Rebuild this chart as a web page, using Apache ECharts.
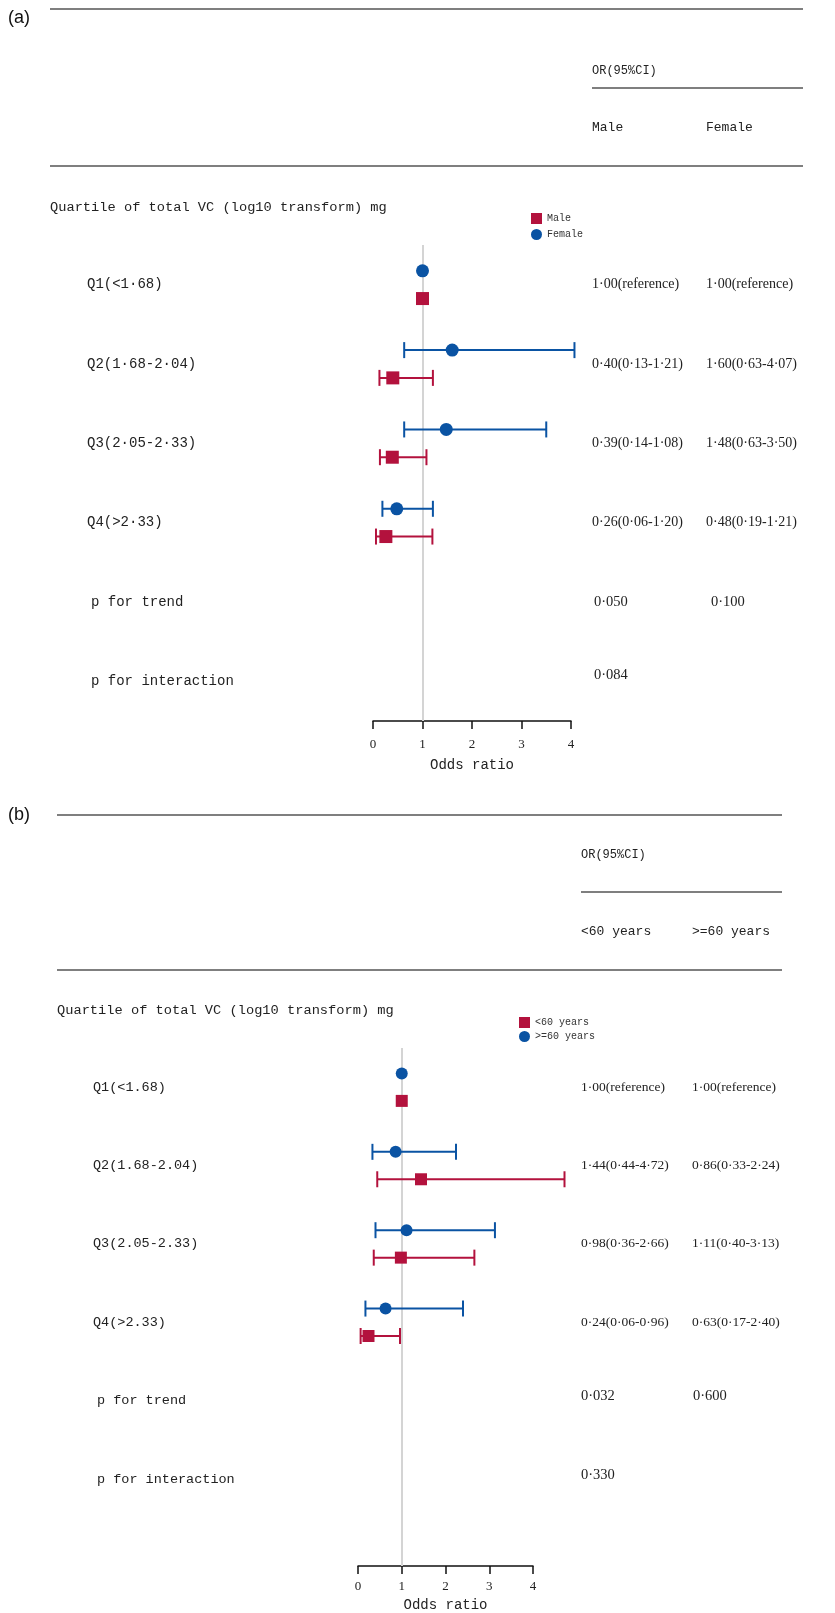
<!DOCTYPE html>
<html>
<head>
<meta charset="utf-8">
<script src="https://cdn.jsdelivr.net/npm/echarts@6/dist/echarts.min.js"></script>
<style>html,body{margin:0;padding:0;background:#fff}#c{width:835px;height:1613px}</style>
</head>
<body>
<div id="c"></div>
<script>
// ---------- Panel (a): by sex ----------
const rowLabelsA = ['Q1(<1·68)', 'Q2(1·68-2·04)', 'Q3(2·05-2·33)', 'Q4(>2·33)', 'p for trend', 'p for interaction'];
const maleOR = [1.00, 0.40, 0.39, 0.26];
const maleLo = [null, 0.13, 0.14, 0.06];
const maleHi = [null, 1.21, 1.08, 1.20];
const femaleOR = [1.00, 1.60, 1.48, 0.48];
const femaleLo = [null, 0.63, 0.63, 0.19];
const femaleHi = [null, 4.07, 3.50, 1.21];
const maleText = ['1·00(reference)', '0·40(0·13-1·21)', '0·39(0·14-1·08)', '0·26(0·06-1·20)'];
const femaleText = ['1·00(reference)', '1·60(0·63-4·07)', '1·48(0·63-3·50)', '0·48(0·19-1·21)'];
const pTrendA = ['0·050', '0·100'];
const pInterA = '0·084';
const groupNamesA = ['Male', 'Female'];

// ---------- Panel (b): by age ----------
const rowLabelsB = ['Q1(<1.68)', 'Q2(1.68-2.04)', 'Q3(2.05-2.33)', 'Q4(>2.33)', 'p for trend', 'p for interaction'];
const youngOR = [1.00, 1.44, 0.98, 0.24];
const youngLo = [null, 0.44, 0.36, 0.06];
const youngHi = [null, 4.72, 2.66, 0.96];
const oldOR = [1.00, 0.86, 1.11, 0.63];
const oldLo = [null, 0.33, 0.40, 0.17];
const oldHi = [null, 2.24, 3.13, 2.40];
const youngText = ['1·00(reference)', '1·44(0·44-4·72)', '0·98(0·36-2·66)', '0·24(0·06-0·96)'];
const oldText = ['1·00(reference)', '0·86(0·33-2·24)', '1·11(0·40-3·13)', '0·63(0·17-2·40)'];
const pTrendB = ['0·032', '0·600'];
const pInterB = '0·330';
const groupNamesB = ['<60 years', '>=60 years'];

const xTicks = [0, 1, 2, 3, 4];

const RED = '#B3123D';
const BLUE = '#0A53A3';
const MONO = '"Liberation Mono", "DejaVu Sans Mono", monospace';
const SERIF = '"Liberation Serif", "DejaVu Serif", serif';
const OFF = 0.175;

const chart = echarts.init(document.getElementById('c'), null, {renderer: 'canvas'});

function ciData(lo, hi, off) {
  const out = [];
  lo.forEach((l, i) => { if (l != null) out.push([l, hi[i], i + off]); });
  return out;
}
function ptData(or, off) { return or.map((v, i) => [v, i + off]); }

function renderCI(params, api) {
  const y = api.value(2);
  const p1 = api.coord([api.value(0), y]);
  const p2 = api.coord([api.value(1), y]);
  const h = 8;
  const color = api.visual('color');
  const st = {stroke: color, lineWidth: 2};
  return {type: 'group', children: [
    {type: 'line', shape: {x1: p1[0], y1: p1[1], x2: p2[0], y2: p2[1]}, style: st},
    {type: 'line', shape: {x1: p1[0], y1: p1[1] - h, x2: p1[0], y2: p1[1] + h}, style: st},
    {type: 'line', shape: {x1: p2[0], y1: p2[1] - h, x2: p2[0], y2: p2[1] + h}, style: st}
  ]};
}

function xAxisOf(gi, margin, gap) {
  return {
    gridIndex: gi, type: 'value', min: 0, max: 4, interval: 1, position: 'bottom',
    axisLine: {show: true, onZero: false, lineStyle: {color: '#111', width: 1.5}},
    axisTick: {show: true, length: 8, inside: false, lineStyle: {color: '#111', width: 1.5}},
    axisLabel: {margin: margin, fontFamily: SERIF, fontSize: 13, color: '#222',
      formatter: v => (xTicks.indexOf(v) >= 0 ? String(v) : '')},
    splitLine: {show: false},
    name: 'Odds ratio', nameLocation: 'middle', nameGap: gap,
    nameTextStyle: {fontFamily: MONO, fontSize: 14, color: '#222'}
  };
}

function seriesFor(gi, names, orR, loR, hiR, orB, loB, hiB, symSize) {
  return [
    {name: names[0] + ' CI', type: 'custom', xAxisIndex: gi, yAxisIndex: gi, clip: false,
      renderItem: renderCI, encode: {x: [0, 1], y: 2}, data: ciData(loR, hiR, OFF),
      itemStyle: {color: RED}, z: 3,
      markLine: {silent: true, symbol: ['none', 'none'], label: {show: false},
        lineStyle: {color: '#d4d4d4', width: 2, type: 'solid'}, data: [{xAxis: 1}], z: 1}},
    {name: names[1] + ' CI', type: 'custom', xAxisIndex: gi, yAxisIndex: gi, clip: false,
      renderItem: renderCI, encode: {x: [0, 1], y: 2}, data: ciData(loB, hiB, -OFF),
      itemStyle: {color: BLUE}, z: 3},
    {name: names[0], type: 'scatter', xAxisIndex: gi, yAxisIndex: gi, symbol: 'rect',
      symbolSize: symSize, data: ptData(orR, OFF), itemStyle: {color: RED, opacity: 1}, z: 5},
    {name: names[1], type: 'scatter', xAxisIndex: gi, yAxisIndex: gi, symbol: 'circle',
      symbolSize: symSize, data: ptData(orB, -OFF), itemStyle: {color: BLUE, opacity: 1}, z: 5}
  ];
}

const option = {
  animation: false,
  backgroundColor: '#fff',
  grid: [
    {left: 373, top: 245, width: 198, height: 476, containLabel: false},
    {left: 358, top: 1048, width: 175, height: 518, containLabel: false}
  ],
  xAxis: [xAxisOf(0, 17, 37), xAxisOf(1, 14, 32)],
  yAxis: [
    {gridIndex: 0, type: 'value', inverse: true, min: -0.5, max: 5.5, show: false},
    {gridIndex: 1, type: 'value', inverse: true, min: -0.5, max: 6.11, show: false}
  ],
  legend: [
    {left: 526, top: 208, orient: 'vertical', itemWidth: 11, itemHeight: 11, itemGap: 5,
      textStyle: {fontFamily: MONO, fontSize: 10, color: '#333'},
      data: [{name: 'Male', icon: 'rect'}, {name: 'Female', icon: 'circle'}], selectedMode: false},
    {left: 514, top: 1012, orient: 'vertical', itemWidth: 11, itemHeight: 11, itemGap: 3,
      textStyle: {fontFamily: MONO, fontSize: 10, color: '#333'},
      data: [{name: '<60 years', icon: 'rect'}, {name: '>=60 years', icon: 'circle'}], selectedMode: false}
  ],
  series: [].concat(
    seriesFor(0, groupNamesA, maleOR, maleLo, maleHi, femaleOR, femaleLo, femaleHi, 13),
    seriesFor(1, groupNamesB, youngOR, youngLo, youngHi, oldOR, oldLo, oldHi, 12)
  )
};
chart.setOption(option);

// ---------- text table drawn as graphic text ----------
function txt(str, x, y, size, family, align, color) {
  return {type: 'text', silent: true, z: 10,
    style: {text: str, x: x, y: y, fontSize: size, fontFamily: family, fill: color || '#222',
      align: align || 'left', verticalAlign: 'middle'}};
}
function hline(x1, x2, y) {
  return {type: 'line', silent: true, z: 10, shape: {x1: x1, y1: y, x2: x2, y2: y},
    style: {stroke: '#555', lineWidth: 1.5}};
}
function rowY(gi, r) { return chart.convertToPixel({gridIndex: gi}, [0, r])[1]; }

const g = [];
// Panel (a)
g.push(txt('(a)', 8, 18, 18, '"Liberation Sans", Arial, sans-serif', 'left', '#111'));
g.push(hline(50, 803, 9));
g.push(txt('OR(95%CI)', 592, 71, 12, MONO));
g.push(hline(592, 803, 88));
g.push(txt(groupNamesA[0], 592, 128, 13, MONO));
g.push(txt(groupNamesA[1], 706, 128, 13, MONO));
g.push(hline(50, 803, 166));
g.push(txt('Quartile of total VC (log10 transform) mg', 50, 207, 13.7, MONO));
rowLabelsA.forEach((s, i) => g.push(txt(s, i < 4 ? 87 : 91, rowY(0, i), 14, MONO)));
maleText.forEach((s, i) => g.push(txt(s, 592, rowY(0, i), 14, SERIF)));
femaleText.forEach((s, i) => g.push(txt(s, 706, rowY(0, i), 14, SERIF)));
g.push(txt(pTrendA[0], 594, rowY(0, 4), 14.5, SERIF));
g.push(txt(pTrendA[1], 711, rowY(0, 4), 14.5, SERIF));
g.push(txt(pInterA, 594, rowY(0, 5) - 6, 14.5, SERIF));

// Panel (b)
g.push(txt('(b)', 8, 815, 18, '"Liberation Sans", Arial, sans-serif', 'left', '#111'));
g.push(hline(57, 782, 815));
g.push(txt('OR(95%CI)', 581, 855, 12, MONO));
g.push(hline(581, 782, 892));
g.push(txt(groupNamesB[0], 581, 932, 13, MONO));
g.push(txt(groupNamesB[1], 692, 932, 13, MONO));
g.push(hline(57, 782, 970));
g.push(txt('Quartile of total VC (log10 transform) mg', 57, 1010, 13.7, MONO));
rowLabelsB.forEach((s, i) => g.push(txt(s, i < 4 ? 93 : 97, rowY(1, i), 13.5, MONO)));
youngText.forEach((s, i) => g.push(txt(s, 581, rowY(1, i), 13.5, SERIF)));
oldText.forEach((s, i) => g.push(txt(s, 692, rowY(1, i), 13.5, SERIF)));
g.push(txt(pTrendB[0], 581, rowY(1, 4) - 4, 14.5, SERIF));
g.push(txt(pTrendB[1], 693, rowY(1, 4) - 4, 14.5, SERIF));
g.push(txt(pInterB, 581, rowY(1, 5) - 4, 14.5, SERIF));

chart.setOption({graphic: {elements: g}});
</script>
</body>
</html>
